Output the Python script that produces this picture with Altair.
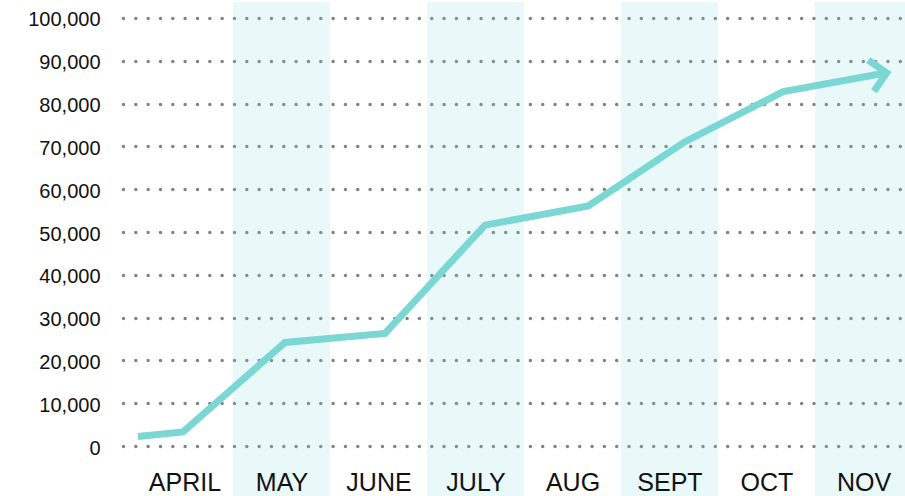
import altair as alt
import pandas as pd

# ---- data ----
months = ["APRIL", "MAY", "JUNE", "JULY", "AUG", "SEPT", "OCT", "NOV"]
shaded_start = [1, 3, 5, 7]  # MAY, JULY, SEPT, NOV bands (month index)
pos = [0.02, 0.485, 1.536, 2.567, 3.598, 4.663, 5.66, 6.673, 7.739]  # month position
values = [2200, 3300, 24200, 26300, 51600, 56100, 71100, 82800, 87200]
y_ticks = list(range(0, 100001, 10000))

line_df = pd.DataFrame({"pos": pos, "value": values})
band_df = pd.DataFrame({"start": shaded_start, "end": [s + 1 for s in shaded_start]})
tip_df = line_df.tail(1)

W, H = 782, 454
LINE = "#7ad7d4"
FONT = "Liberation Sans"

xscale = alt.Scale(domain=[-0.134, 7.928], nice=False, zero=False)
yscale = alt.Scale(domain=[-2336, 103738], nice=False, zero=False)

label_expr = "[" + ",".join(f"'{m}'" for m in months) + "][floor(datum.value)]"

x_axis = alt.Axis(
    values=[i + 0.5 for i in range(len(months))],
    labelExpr=label_expr,
    domain=False, ticks=False, grid=False,
    labelPadding=14, labelFontSize=25, labelFont=FONT, labelColor="#111111",
    title=None, zindex=1,
)
y_axis = alt.Axis(
    values=y_ticks,
    labelExpr="format(datum.value, ',')",
    domain=False, ticks=False, grid=True,
    gridColor="#828282", gridDash=[0, 12.33], gridCap="round", gridWidth=3.5,
    labelPadding=23, labelFontSize=20, labelFont=FONT, labelColor="#111111",
    labelOffset=2, title=None, zindex=0,
)

bands = alt.Chart(band_df).mark_rect(color=LINE, opacity=0.17).encode(
    x=alt.X("start:Q", scale=xscale, axis=x_axis),
    x2="end:Q",
    y=alt.value(0),
    y2=alt.value(494),
)

line = alt.Chart(line_df).mark_line(
    color=LINE, strokeWidth=7, strokeJoin="miter", strokeCap="butt"
).encode(
    x=alt.X("pos:Q", scale=xscale, axis=x_axis),
    y=alt.Y("value:Q", scale=yscale, axis=y_axis),
)

arrow = alt.Chart(tip_df).mark_point(
    shape="M-1,-1L0,0L-1,1", size=1000, filled=False, strokeWidth=7,
    color=LINE, opacity=1, angle=349.6, strokeJoin="miter",
).encode(
    x=alt.X("pos:Q", scale=xscale, axis=x_axis),
    y=alt.Y("value:Q", scale=yscale, axis=y_axis),
)

chart = alt.layer(bands, line, arrow).properties(
    width=W, height=H,
    padding={"left": 123, "top": 2, "right": 0, "bottom": 40},
    autosize="none",
).configure_view(stroke=None)

chart.save("out.html", embed_options={"renderer": "svg", "actions": False})
